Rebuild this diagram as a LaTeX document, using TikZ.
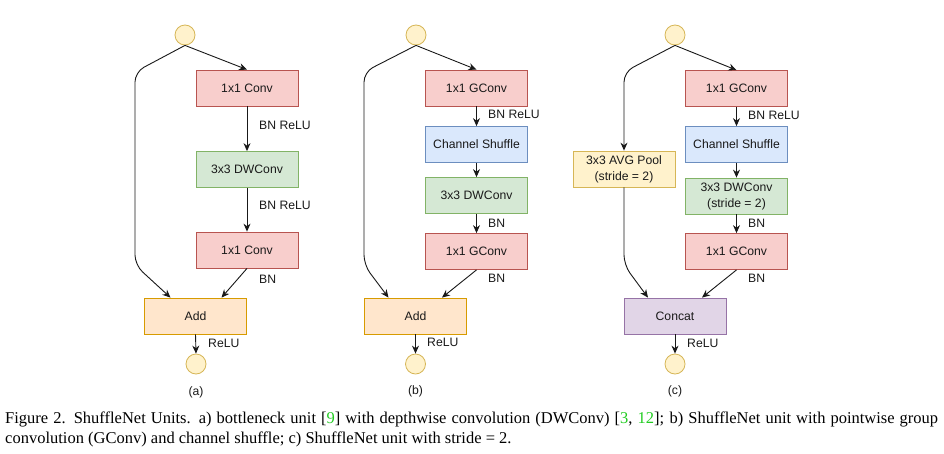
\documentclass[tikz,border=0pt]{standalone}
\usepackage{fontspec}
\setmainfont{Liberation Serif}
\newfontfamily\boxfont{Liberation Sans}
\usetikzlibrary{arrows.meta}
\definecolor{redF}{HTML}{F8CECC}\definecolor{redD}{HTML}{B85450}
\definecolor{grnF}{HTML}{D5E8D4}\definecolor{grnD}{HTML}{82B366}
\definecolor{bluF}{HTML}{DAE8FC}\definecolor{bluD}{HTML}{6C8EBF}
\definecolor{orgF}{HTML}{FFE6CC}\definecolor{orgD}{HTML}{D79B00}
\definecolor{yelF}{HTML}{FFF2CC}\definecolor{yelD}{HTML}{D6B656}
\definecolor{purF}{HTML}{E1D5E7}\definecolor{purD}{HTML}{9673A6}
\definecolor{txt}{HTML}{1A1A1A}
\definecolor{citeg}{HTML}{22CC22}
\begin{document}
\begin{tikzpicture}[x=1pt,y=-1pt,
  blk/.style={draw, line width=0.8pt, minimum width=102pt, minimum height=36pt, inner sep=0pt,
    font=\boxfont\fontsize{12.2}{16}\selectfont, text=txt, align=center},
  redb/.style={blk, fill=redF, draw=redD},
  grnb/.style={blk, fill=grnF, draw=grnD},
  blub/.style={blk, fill=bluF, draw=bluD},
  orgb/.style={blk, fill=orgF, draw=orgD},
  yelb/.style={blk, fill=yelF, draw=yelD},
  purb/.style={blk, fill=purF, draw=purD},
  io/.style={circle, draw=yelD, fill=yelF, line width=0.8pt, minimum size=20pt, inner sep=0pt},
  lbl/.style={anchor=west, inner sep=0pt, font=\boxfont\fontsize{12.2}{14}\selectfont, text=txt},
  sub/.style={inner sep=0pt, font=\boxfont\fontsize{12.2}{14}\selectfont, text=txt},
  arr/.style={-{Stealth[length=8pt,width=7pt]}, line width=0.9pt, draw=black!90},
  skiparr/.style={arr, rounded corners=10pt},
  captxt/.style={anchor=base west, inner sep=0pt, font=\fontsize{16.5}{20}\selectfont}
]
\useasboundingbox (0,0) rectangle (944,453);
\fill[white] (0,0) rectangle (944,453);

% ---------- (a) ----------
\node[io] (ain) at (185,35) {};
\node[redb] (a1) at (247,88) {1x1 Conv};
\node[grnb] (a2) at (247,169.5) {3x3 DWConv};
\node[redb] (a3) at (247,250) {1x1 Conv};
\node[orgb] (aadd) at (195.5,316) {Add};
\node[io] (aout) at (196,364) {};
\node[lbl] (al1) at (259,125) {BN ReLU};
\node[lbl] (al2) at (259,205) {BN ReLU};
\node[lbl] (al3) at (259,279) {BN};
\node[lbl] (al4) at (208,343) {ReLU};
\node[sub] (acap) at (196,392) {(a)};
\draw[arr] (ain.south) -- (a1.north);
\draw[arr] (a1.south) -- (a2.north);
\draw[arr] (a2.south) -- (a3.north);
\draw[arr] (a3.south) -- ([xshift=26pt]aadd.north);
\draw[skiparr] (ain.south) -- (135,72) -- (135,265) -- ([xshift=-25pt]aadd.north);
\draw[arr] (aadd.south) -- (aout.north);

% ---------- (b) ----------
\node[io] (bin) at (416,35) {};
\node[redb] (b1) at (476.5,88) {1x1 GConv};
\node[blub] (b2) at (476.5,144.5) {Channel Shuffle};
\node[grnb] (b3) at (476.5,195.5) {3x3 DWConv};
\node[redb] (b4) at (476.5,251.5) {1x1 GConv};
\node[orgb] (badd) at (415.5,316) {Add};
\node[io] (bout) at (415.5,364) {};
\node[lbl] (bl1) at (488,114) {BN ReLU};
\node[lbl] (bl2) at (488,223) {BN};
\node[lbl] (bl3) at (488,278) {BN};
\node[lbl] (bl4) at (427,342) {ReLU};
\node[sub] (bcap) at (415.5,391) {(b)};
\draw[arr] (bin.south) -- (b1.north);
\draw[arr] (b1.south) -- (b2.north);
\draw[arr] (b2.south) -- (b3.north);
\draw[arr] (b3.south) -- (b4.north);
\draw[arr] (b4.south) -- ([xshift=26.5pt]badd.north);
\draw[skiparr] (bin.south) -- (364,72) -- (364,265) -- ([xshift=-27pt]badd.north);
\draw[arr] (badd.south) -- (bout.north);

% ---------- (c) ----------
\node[io] (cin) at (675,35) {};
\node[redb] (c1) at (736.5,88.5) {1x1 GConv};
\node[blub] (c2) at (736.5,144.5) {Channel Shuffle};
\node[grnb] (c3) at (736.5,196) {3x3 DWConv\\(stride = 2)};
\node[redb] (c4) at (736.5,251.5) {1x1 GConv};
\node[yelb] (cpool) at (624,169) {3x3 AVG Pool\\(stride = 2)};
\node[purb] (ccat) at (675,316) {Concat};
\node[io] (cout) at (675,364) {};
\node[lbl] (cl1) at (748,115) {BN ReLU};
\node[lbl] (cl2) at (748,223) {BN};
\node[lbl] (cl3) at (748,278) {BN};
\node[lbl] (cl4) at (687,343) {ReLU};
\node[sub] (ccap) at (675,391) {(c)};
\draw[arr] (cin.south) -- (c1.north);
\draw[arr] (c1.south) -- (c2.north);
\draw[arr] (c2.south) -- (c3.north);
\draw[arr] (c3.south) -- (c4.north);
\draw[arr] (c4.south) -- ([xshift=27pt]ccat.north);
\draw[skiparr] (cin.south) -- (624,72) -- (cpool.north);
\draw[skiparr] (cpool.south) -- (624,265) -- ([xshift=-27pt]ccat.north);
\draw[arr] (ccat.south) -- (cout.north);

% ---------- caption ----------
\node[captxt] (cap1) at (5,423)
  {\makebox[933pt][s]{Figure 2. ShuffleNet Units. a) bottleneck unit [\textcolor{citeg}{9}] with depthwise convolution (DWConv) [\textcolor{citeg}{3}, \textcolor{citeg}{12}]; b) ShuffleNet unit with pointwise group}};
\node[captxt] (cap2) at (5,443)
  {convolution (GConv) and channel shuffle; c) ShuffleNet unit with stride = 2.};
\end{tikzpicture}
\end{document}
